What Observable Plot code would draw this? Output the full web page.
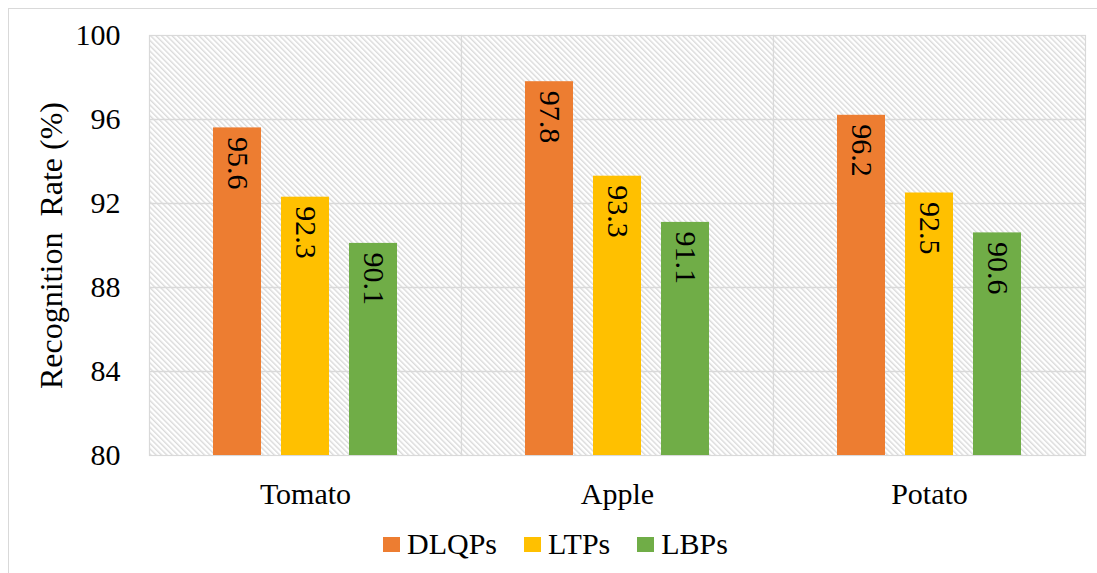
<!DOCTYPE html>
<html>
<head>
<meta charset="utf-8">
<script src="https://cdn.jsdelivr.net/npm/d3@7"></script>
<script src="https://cdn.jsdelivr.net/npm/@observablehq/plot@0.6"></script>
<style>
  body { margin: 0; background: #fff; font-family: "Liberation Serif", "Times New Roman", serif; }
  #wrap { position: relative; width: 1097px; height: 573px; overflow: hidden; }
  #border { position: absolute; left: 8px; top: 8px; width: 1200px; height: 700px; border: 1px solid #d9d9d9; box-sizing: border-box; }
  #chart { position: absolute; left: 0; top: 0; }
  #legend { position: absolute; top: 526px; left: 383px; display: flex; align-items: center; font-size: 30px; color: #000; line-height: 36px; }
  #legend .item { display: flex; align-items: center; margin-right: 27px; }
  #legend .sw { width: 17px; height: 15px; margin-right: 7px; }
  #chart svg text { font-family: "Liberation Serif", "Times New Roman", serif; }
</style>
</head>
<body>
<div id="wrap">
  <div id="border"></div>
  <div id="chart"></div>
  <div id="legend"></div>
</div>
<script>
// Recognition rates per crop and descriptor
const crops = ["Tomato", "Apple", "Potato"];
const methods = ["DLQPs", "LTPs", "LBPs"];
const dlqpRates = [95.6, 97.8, 96.2];
const ltpRates = [92.3, 93.3, 92.5];
const lbpRates = [90.1, 91.1, 90.6];
const methodColors = ["#ED7D31", "#FFC000", "#70AD47"];
const yTicks = [80, 84, 88, 92, 96, 100];
const gridValues = [84, 88, 92, 96];

const series = [dlqpRates, ltpRates, lbpRates];
const rows = [];
crops.forEach((crop, i) => {
  methods.forEach((method, j) => {
    rows.push({crop, method, value: series[j][i]});
  });
});

const serif = "'Liberation Serif', 'Times New Roman', serif";

const chart = Plot.plot({
  width: 1097,
  height: 515,
  marginLeft: 148,
  marginRight: 12,
  marginTop: 35,
  marginBottom: 60,
  style: {fontFamily: serif, fontSize: "30px", color: "#000", background: "transparent", overflow: "visible"},
  fx: {domain: crops, padding: 0, label: null, tickSize: 0, tickPadding: 27, axis: "bottom"},
  x: {domain: methods, axis: null, paddingInner: 0.294, paddingOuter: 0.94},
  y: {
    domain: [80, 100],
    ticks: yTicks,
    tickSize: 0,
    tickPadding: 29,
    label: "Recognition\u00a0 Rate (%)",
    labelAnchor: "center",
    labelOffset: 110,
    labelArrow: "none"
  },
  color: {domain: methods, range: methodColors},
  marks: [
    Plot.frame({fill: "url(#hatch)", stroke: "#d9d9d9", strokeWidth: 1.2}),
    Plot.ruleY(gridValues, {stroke: "#d9d9d9", strokeWidth: 1.5}),
    Plot.barY(rows, {fx: "crop", x: "method", y1: 80, y2: "value", fill: "method"}),
    Plot.text(rows, {
      fx: "crop", x: "method", y: "value",
      text: d => d.value.toFixed(1),
      rotate: 90, textAnchor: "start", lineAnchor: "middle",
      dy: 9, fontSize: 30, fontFamily: serif, fill: "#000"
    })
  ]
});

// diagonal hatch used as the plot-area background
const pattern = d3.select(chart).insert("defs", ":first-child")
  .append("pattern")
  .attr("id", "hatch")
  .attr("patternUnits", "userSpaceOnUse")
  .attr("width", 3.8)
  .attr("height", 10)
  .attr("patternTransform", "rotate(-45)");
pattern.append("rect").attr("width", 3.8).attr("height", 10).attr("fill", "#ffffff");
pattern.append("rect").attr("width", 1.4).attr("height", 10).attr("fill", "#dadada");

// slightly larger axis title
d3.select(chart).select('g[aria-label="y-axis label"]').attr("font-size", 32);

document.getElementById("chart").appendChild(chart);

// legend
const legend = d3.select("#legend");
methods.forEach((m, i) => {
  const item = legend.append("div").attr("class", "item");
  item.append("div").attr("class", "sw").style("background", methodColors[i]);
  item.append("span").text(m);
});
</script>
</body>
</html>
